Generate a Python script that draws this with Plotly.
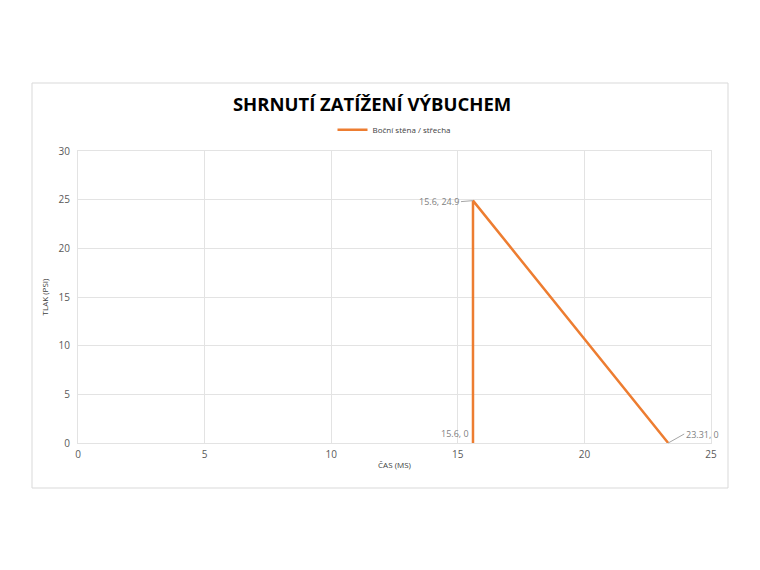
import plotly.graph_objects as go

# data
cas_ms = [15.6, 15.6, 23.31]
tlak_psi = [0, 24.9, 0]
popisky = ["15.6, 0", "15.6, 24.9", "23.31, 0"]

oranzova = "#ED7D31"
seda_text = "#7F7F7F"
mrizka = "#E3E3E3"

fig = go.Figure()
fig.add_trace(go.Scatter(
    x=cas_ms, y=tlak_psi, mode="lines",
    name="Boční stěna / střecha",
    line=dict(color=oranzova, width=2.5),
))

# popisky bodů s vodicími čárami
posuny = [(-22, 0), (-12, 1), (16, -9)]
for x, y, txt, (ax, ay) in zip(cas_ms, tlak_psi, popisky, posuny):
    if txt == "15.6, 0":
        fig.add_annotation(x=x, y=y, text=txt, showarrow=False,
                           xanchor="right", yanchor="bottom", xshift=-2, yshift=1,
                           font=dict(size=9, color=seda_text))
    else:
        fig.add_annotation(x=x, y=y, text=txt, showarrow=True, arrowhead=0,
                           arrowwidth=1, arrowcolor="#A6A6A6",
                           ax=ax, ay=ay, xanchor="right" if ax < 0 else "left",
                           font=dict(size=9, color=seda_text))

fig.update_layout(
    width=760, height=570,
    paper_bgcolor="white", plot_bgcolor="white",
    margin=dict(l=70, r=57, t=143, b=135),
    font=dict(family="Open Sans, Liberation Sans, sans-serif", color="#595959"),
    title=dict(text="<b>SHRNUTÍ ZATÍŽENÍ VÝBUCHEM</b>", x=0.479, xanchor="center",
               y=0.83, yanchor="middle",
               font=dict(size=18.5, color="#000000", family="Open Sans, sans-serif")),
    showlegend=True,
    legend=dict(orientation="h", x=0.5, xanchor="center", y=1.073, yanchor="middle",
                font=dict(size=8, color="#404040")),
    xaxis=dict(range=[0, 25], dtick=5, showgrid=True, gridcolor=mrizka,
               zeroline=False, showline=True, linecolor=mrizka, mirror=True,
               ticks="", tickfont=dict(size=10, color="#595959"), ticklabelstandoff=2,
               title=dict(text="ČAS (MS)", font=dict(size=8, color="#404040"), standoff=2)),
    yaxis=dict(range=[0, 30], dtick=5, showgrid=True, gridcolor=mrizka,
               zeroline=False, showline=True, linecolor=mrizka, mirror=True,
               ticks="", tickfont=dict(size=10, color="#595959"), ticklabelstandoff=5,
               title=dict(text="TLAK (PSI)", font=dict(size=8, color="#404040"), standoff=8)),
)

# rámeček grafu
fig.add_shape(type="rect", xref="paper", yref="paper",
              x0=-46 / 633, x1=1 + 17 / 633, y0=-45 / 292, y1=1 + 68 / 292,
              line=dict(color="#D9D9D9", width=1))

fig.write_html("out.html")
